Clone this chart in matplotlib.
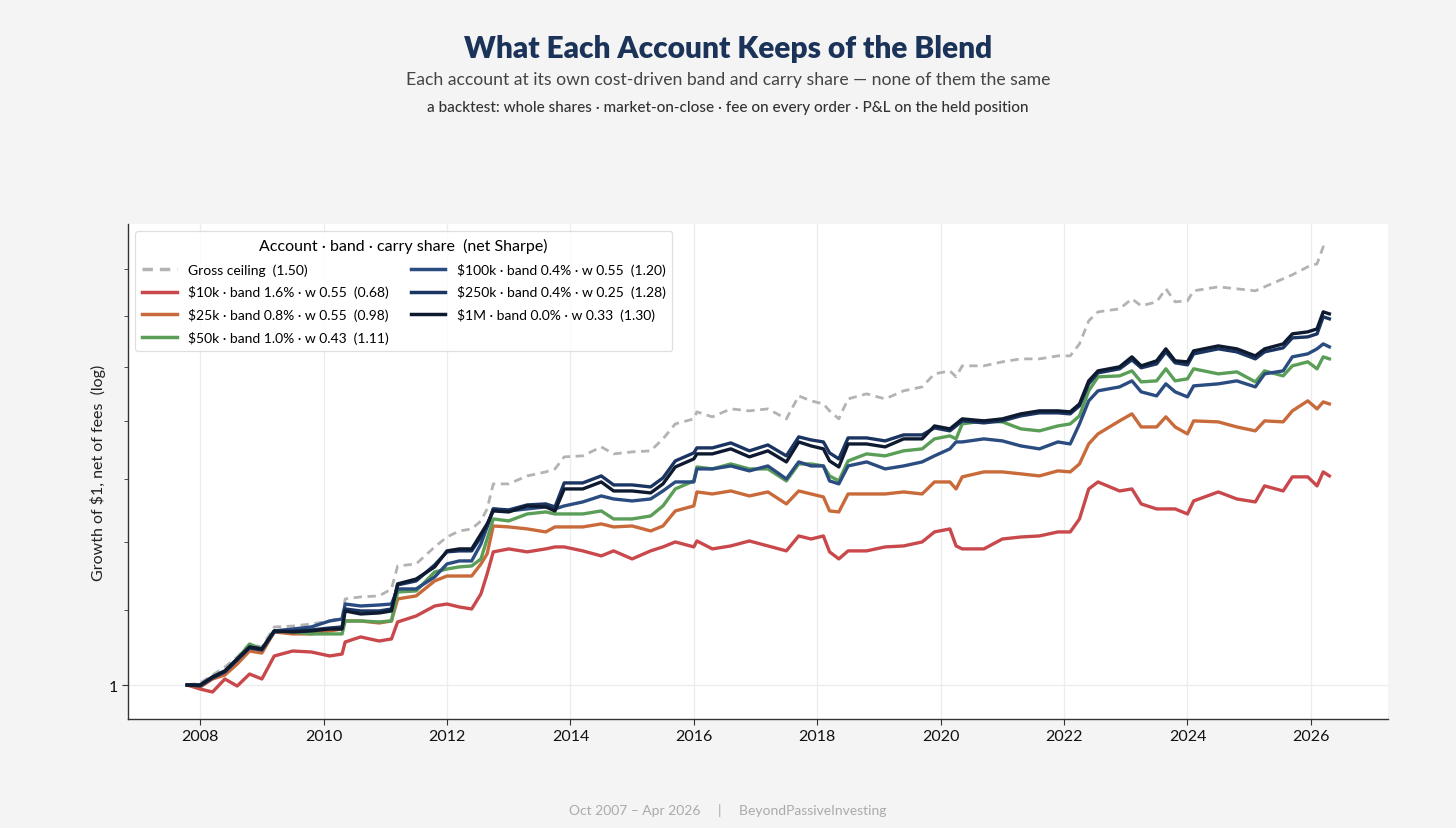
import numpy as np
import matplotlib
matplotlib.use("Agg")
import matplotlib.pyplot as plt
from matplotlib.ticker import FixedLocator, NullFormatter, FixedFormatter

plt.rcParams['font.family'] = ['Lato', 'DejaVu Sans']

# decimal years, Oct 2007 - Apr 2026
years = [2007.79, 2008.0, 2008.2, 2008.4, 2008.6, 2008.8, 2009.0, 2009.2, 2009.5, 2009.8,
         2010.1, 2010.3, 2010.35, 2010.6, 2010.9, 2011.1, 2011.2, 2011.5, 2011.8, 2012.0,
         2012.2, 2012.4, 2012.55, 2012.65, 2012.75, 2013.0, 2013.3, 2013.6, 2013.75, 2013.9,
         2014.2, 2014.5, 2014.7, 2015.0, 2015.3, 2015.5, 2015.7, 2016.0, 2016.05, 2016.3,
         2016.6, 2016.9, 2017.2, 2017.5, 2017.7, 2017.9, 2018.1, 2018.2, 2018.35, 2018.5,
         2018.8, 2019.1, 2019.4, 2019.7, 2019.9, 2020.15, 2020.25, 2020.35, 2020.7, 2021.0,
         2021.3, 2021.6, 2021.9, 2022.1, 2022.25, 2022.4, 2022.55, 2022.9, 2023.1, 2023.25,
         2023.5, 2023.65, 2023.8, 2024.0, 2024.1, 2024.5, 2024.8, 2025.1, 2025.25, 2025.55,
         2025.7, 2025.95, 2026.1, 2026.2, 2026.3]

gross = [1.000, 1.0026, 1.0128, 1.0232, 1.0364, 1.0536, 1.0496, 1.0768, 1.0781, 1.0809,
         1.0851, 1.0906, 1.1160, 1.1189, 1.1203, 1.1303, 1.1639, 1.1669, 1.1925, 1.2077,
         1.2170, 1.2202, 1.2327, 1.2517, 1.2923, 1.2923, 1.3055, 1.3122, 1.3172, 1.3376,
         1.3393, 1.3547, 1.3427, 1.3461, 1.3479, 1.3686, 1.3950, 1.4040, 1.4166, 1.4076,
         1.4220, 1.4184, 1.4220, 1.4040, 1.4457, 1.4366, 1.4310, 1.4184, 1.4040, 1.4402,
         1.4495, 1.4402, 1.4551, 1.4624, 1.4869, 1.4926, 1.4812, 1.5022, 1.5022, 1.5099,
         1.5156, 1.5156, 1.5214, 1.5214, 1.5448, 1.5910, 1.6092, 1.6154, 1.6362, 1.6216,
         1.6299, 1.6572, 1.6299, 1.6320, 1.6530, 1.6614, 1.6572, 1.6530, 1.6614, 1.6785,
         1.6871, 1.7044, 1.7109, 1.7484, 1.7440]

acct_10k = [1.000, 0.9949, 0.9911, 1.0077, 0.9987, 1.0141, 1.0077, 1.0377, 1.0443, 1.0430,
            1.0377, 1.0403, 1.0564, 1.0632, 1.0577, 1.0605, 1.0837, 1.0920, 1.1060, 1.1088,
            1.1046, 1.1018, 1.1232, 1.1521, 1.1850, 1.1895, 1.1850, 1.1895, 1.1925, 1.1925,
            1.1865, 1.1789, 1.1865, 1.1744, 1.1865, 1.1925, 1.2001, 1.1925, 1.2016, 1.1895,
            1.1940, 1.2016, 1.1940, 1.1865, 1.2093, 1.2046, 1.2093, 1.1850, 1.1744, 1.1865,
            1.1865, 1.1925, 1.1940, 1.2001, 1.2155, 1.2202, 1.1940, 1.1895, 1.1895, 1.2046,
            1.2077, 1.2093, 1.2155, 1.2155, 1.2358, 1.2840, 1.2955, 1.2807, 1.2840, 1.2597,
            1.2517, 1.2517, 1.2517, 1.2437, 1.2645, 1.2791, 1.2677, 1.2629, 1.2890, 1.2807,
            1.3039, 1.3039, 1.2890, 1.3122, 1.3055]

acct_25k = [1.000, 0.9974, 1.0077, 1.0128, 1.0271, 1.0443, 1.0416, 1.0700, 1.0673, 1.0673,
            1.0714, 1.0740, 1.0851, 1.0851, 1.0823, 1.0851, 1.1160, 1.1203, 1.1419, 1.1491,
            1.1491, 1.1491, 1.1669, 1.1819, 1.2248, 1.2233, 1.2202, 1.2155, 1.2233, 1.2233,
            1.2233, 1.2280, 1.2233, 1.2248, 1.2170, 1.2248, 1.2485, 1.2565, 1.2791, 1.2758,
            1.2807, 1.2726, 1.2791, 1.2597, 1.2807, 1.2758, 1.2710, 1.2485, 1.2469, 1.2758,
            1.2758, 1.2758, 1.2791, 1.2758, 1.2955, 1.2955, 1.2840, 1.3039, 1.3122, 1.3122,
            1.3089, 1.3055, 1.3139, 1.3122, 1.3256, 1.3599, 1.3774, 1.4004, 1.4130, 1.3896,
            1.3896, 1.4076, 1.3896, 1.3774, 1.4004, 1.3986, 1.3896, 1.3827, 1.4004, 1.3986,
            1.4184, 1.4366, 1.4220, 1.4347, 1.4310]

acct_50k = [1.000, 1.000, 1.0102, 1.0180, 1.0337, 1.0536, 1.0470, 1.0714, 1.0700, 1.0673,
            1.0673, 1.0673, 1.0851, 1.0851, 1.0837, 1.0851, 1.1260, 1.1274, 1.1550, 1.1594,
            1.1625, 1.1639, 1.1744, 1.2046, 1.2358, 1.2327, 1.2437, 1.2469, 1.2437, 1.2437,
            1.2437, 1.2485, 1.2358, 1.2358, 1.2405, 1.2565, 1.2840, 1.2972, 1.3205, 1.3172,
            1.3256, 1.3172, 1.3172, 1.2972, 1.3256, 1.3256, 1.3222, 1.3055, 1.2972, 1.3307,
            1.3427, 1.3393, 1.3479, 1.3513, 1.3686, 1.3739, 1.3686, 1.3950, 1.4004, 1.3986,
            1.3862, 1.3827, 1.3914, 1.3950, 1.4094, 1.4551, 1.4812, 1.4831, 1.4926, 1.4718,
            1.4737, 1.4965, 1.4737, 1.4775, 1.4965, 1.4869, 1.4907, 1.4718, 1.4926, 1.4831,
            1.5022, 1.5099, 1.4965, 1.5195, 1.5156]

acct_100k = [1.000, 1.000, 1.0102, 1.0180, 1.0337, 1.0496, 1.0470, 1.0714, 1.0740, 1.0768,
             1.0851, 1.0878, 1.1088, 1.1060, 1.1074, 1.1088, 1.1303, 1.1303, 1.1477, 1.1669,
             1.1714, 1.1714, 1.1970, 1.2233, 1.2517, 1.2485, 1.2517, 1.2549, 1.2517, 1.2565,
             1.2629, 1.2726, 1.2677, 1.2645, 1.2677, 1.2807, 1.2955, 1.2955, 1.3172, 1.3172,
             1.3222, 1.3139, 1.3222, 1.3005, 1.3290, 1.3222, 1.3222, 1.2972, 1.2923, 1.3222,
             1.3290, 1.3172, 1.3222, 1.3290, 1.3393, 1.3513, 1.3633, 1.3633, 1.3686, 1.3651,
             1.3564, 1.3513, 1.3633, 1.3598, 1.3950, 1.4366, 1.4551, 1.4624, 1.4737, 1.4532,
             1.4457, 1.4681, 1.4532, 1.4439, 1.4643, 1.4681, 1.4737, 1.4624, 1.4869, 1.4926,
             1.5195, 1.5253, 1.5351, 1.5448, 1.5390]

acct_250k = [1.000, 0.9987, 1.0089, 1.0167, 1.0324, 1.0483, 1.0456, 1.0700, 1.0714, 1.0727,
             1.0754, 1.0768, 1.1018, 1.0990, 1.0990, 1.1018, 1.1361, 1.1419, 1.1654, 1.1850,
             1.1865, 1.1865, 1.2077, 1.2248, 1.2517, 1.2501, 1.2581, 1.2597, 1.2549, 1.2939,
             1.2939, 1.3055, 1.2906, 1.2906, 1.2873, 1.3022, 1.3307, 1.3444, 1.3530, 1.3530,
             1.3616, 1.3479, 1.3581, 1.3393, 1.3721, 1.3668, 1.3633, 1.3444, 1.3341, 1.3703,
             1.3703, 1.3651, 1.3756, 1.3756, 1.3879, 1.3827, 1.3914, 1.4004, 1.3968, 1.4004,
             1.4094, 1.4148, 1.4148, 1.4130, 1.4274, 1.4681, 1.4888, 1.4965, 1.5137, 1.4984,
             1.5060, 1.5292, 1.5080, 1.5041, 1.5253, 1.5351, 1.5292, 1.5156, 1.5292, 1.5370,
             1.5567, 1.5587, 1.5647, 1.5991, 1.5950]

acct_1m = [1.000, 1.000, 1.0102, 1.0180, 1.0337, 1.0496, 1.0470, 1.0714, 1.0700, 1.0714,
           1.0740, 1.0740, 1.0990, 1.0948, 1.0962, 1.0990, 1.1376, 1.1447, 1.1625, 1.1865,
           1.1895, 1.1895, 1.2124, 1.2280, 1.2485, 1.2469, 1.2565, 1.2549, 1.2485, 1.2840,
           1.2840, 1.2955, 1.2807, 1.2807, 1.2775, 1.2923, 1.3205, 1.3341, 1.3427, 1.3427,
           1.3513, 1.3376, 1.3479, 1.3290, 1.3633, 1.3564, 1.3513, 1.3307, 1.3205, 1.3598,
           1.3598, 1.3547, 1.3686, 1.3686, 1.3914, 1.3862, 1.3950, 1.4040, 1.4004, 1.4040,
           1.4130, 1.4184, 1.4184, 1.4166, 1.4310, 1.4737, 1.4926, 1.5003, 1.5195, 1.5022,
           1.5118, 1.5351, 1.5118, 1.5099, 1.5311, 1.5409, 1.5351, 1.5214, 1.5351, 1.5448,
           1.5647, 1.5687, 1.5747, 1.6092, 1.6051]

labels = ["Gross ceiling  (1.50)",
          r"\$10k · band 1.6% · w 0.55  (0.68)",
          r"\$25k · band 0.8% · w 0.55  (0.98)",
          r"\$50k · band 1.0% · w 0.43  (1.11)",
          r"\$100k · band 0.4% · w 0.55  (1.20)",
          r"\$250k · band 0.4% · w 0.25  (1.28)",
          r"\$1M · band 0.0% · w 0.33  (1.30)"]
colors = ["#b3b3b3", "#c9484c", "#c96a3b", "#5b9e58", "#2a4c80", "#1b3562", "#0e1a2f"]
series = [gross, acct_10k, acct_25k, acct_50k, acct_100k, acct_250k, acct_1m]

fig = plt.figure(figsize=(14.56, 8.29), dpi=100, facecolor="#f4f4f4")
ax = fig.add_axes([0.0879, 0.1315, 0.8654, 0.5971])
ax.set_facecolor("white")

for i, (vals, lab, col) in enumerate(zip(series, labels, colors)):
    if i == 0:
        ax.plot(years, vals, color=col, lw=2.0, ls=(0, (3, 2)), label=lab, zorder=2)
    else:
        ax.plot(years, vals, color=col, lw=2.4, label=lab, zorder=3 + i)

ax.set_yscale("log")
ax.set_ylim(0.9576, 1.80)
ax.set_xlim(2006.83, 2027.25)
ax.yaxis.set_major_locator(FixedLocator([1.0]))
ax.yaxis.set_major_formatter(FixedFormatter(["1"]))
ax.yaxis.set_minor_locator(FixedLocator([1.1, 1.2, 1.3, 1.4, 1.5, 1.6, 1.7]))
ax.yaxis.set_minor_formatter(NullFormatter())
ax.set_xticks(range(2008, 2027, 2))
ax.set_xticklabels([str(y) for y in range(2008, 2027, 2)])

ax.grid(True, which="major", color="#ececec", lw=0.9)
ax.set_axisbelow(True)
for s in ["top", "right"]:
    ax.spines[s].set_visible(False)
for s in ["left", "bottom"]:
    ax.spines[s].set_color("#333333")
    ax.spines[s].set_linewidth(1.0)
ax.tick_params(axis="both", which="major", labelsize=11.5, colors="#333333", length=4)
ax.tick_params(axis="y", which="minor", length=3, color="#333333")
for t in ax.get_xticklabels() + ax.get_yticklabels():
    t.set_color("#111111")

ax.set_ylabel("Growth of \\$1, net of fees  (log)", fontsize=11.5, color="#222222", labelpad=2)

leg = ax.legend(loc="upper left", ncol=2, fontsize=10, frameon=True,
                title="Account · band · carry share  (net Sharpe)", title_fontsize=11.5,
                handlelength=2.5, columnspacing=1.6, labelspacing=0.7,
                borderpad=0.5, borderaxespad=0.5, bbox_to_anchor=(0.0, 1.0))
leg.get_frame().set_edgecolor("#d8d8d8")
leg.get_frame().set_linewidth(0.9)
for h in leg.get_lines():
    h.set_linewidth(2.5)

fig.text(0.5, 0.941, "What Each Account Keeps of the Blend", ha="center", va="center",
         fontsize=21.5, fontweight="heavy", color="#1b3358")
fig.text(0.5, 0.903, "Each account at its own cost-driven band and carry share — none of them the same",
         ha="center", va="center", fontsize=12.7, color="#444444")
fig.text(0.5, 0.870, "a backtest: whole shares · market-on-close · fee on every order · P&L on the held position",
         ha="center", va="center", fontsize=11, fontweight="medium", color="#333333")
fig.text(0.5, 0.022, "Oct 2007 – Apr 2026     |     BeyondPassiveInvesting",
         ha="center", va="center", fontsize=10, color="#aaaaaa")

fig.savefig("out.png", dpi=100, facecolor=fig.get_facecolor())
